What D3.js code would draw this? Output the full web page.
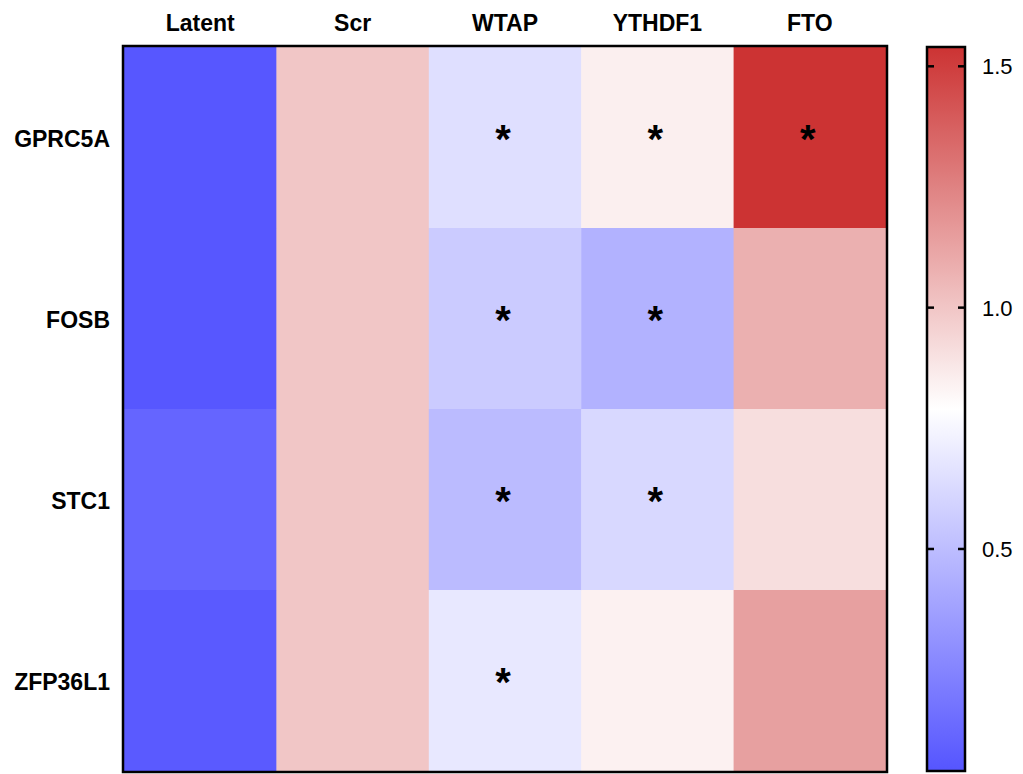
<!DOCTYPE html>
<html>
<head>
<meta charset="utf-8">
<script src="https://cdn.jsdelivr.net/npm/d3@7"></script>
<style>
  html, body { margin: 0; padding: 0; background: #fff; }
  svg { display: block; }
  text { font-family: "Liberation Sans", Arial, sans-serif; }
</style>
</head>
<body>
<svg id="chart" width="1023" height="774"></svg>
<script>
// Conditions (columns) and genes (rows)
const conditions = ["Latent", "Scr", "WTAP", "YTHDF1", "FTO"];
const genes = ["GPRC5A", "FOSB", "STC1", "ZFP36L1"];

// Relative expression per gene, one value per condition
const GPRC5A  = [0.05, 1.00, 0.65, 0.85, 1.54];
const FOSB    = [0.05, 1.00, 0.56, 0.45, 1.08];
const STC1    = [0.11, 1.00, 0.49, 0.62, 0.91];
const ZFP36L1 = [0.06, 1.00, 0.69, 0.84, 1.14];

// Significance marks per gene (1 = significant)
const sigGPRC5A  = [0, 0, 1, 1, 1];
const sigFOSB    = [0, 0, 1, 1, 0];
const sigSTC1    = [0, 0, 1, 1, 0];
const sigZFP36L1 = [0, 0, 1, 0, 0];

// Colour bar range and ticks
const colorMin = 0.04, colorMax = 1.54;
const barTicks = [0.5, 1.0, 1.5];

const rows = [GPRC5A, FOSB, STC1, ZFP36L1];
const sigs = [sigGPRC5A, sigFOSB, sigSTC1, sigZFP36L1];
const cells = [];
genes.forEach((g, i) => conditions.forEach((c, j) => {
  cells.push({ gene: g, cond: c, value: rows[i][j], sig: sigs[i][j] });
}));

const svg = d3.select("#chart");
const plotL = 124, plotR = 886, plotT = 47, plotB = 771;

const x = d3.scaleBand().domain(conditions).range([plotL, plotR]);
const y = d3.scaleBand().domain(genes).range([plotT, plotB]);
const color = d3.scaleLinear()
  .domain([colorMin, (colorMin + colorMax) / 2, colorMax])
  .range(["#5555ff", "#ffffff", "#cc3333"]);

// Heatmap cells
svg.append("g").selectAll("rect").data(cells).join("rect")
  .attr("x", d => x(d.cond))
  .attr("y", d => y(d.gene))
  .attr("width", x.bandwidth() + 0.5)
  .attr("height", y.bandwidth() + 0.5)
  .attr("fill", d => color(d.value));

// Asterisks for significant cells
svg.append("g").selectAll("text").data(cells.filter(d => d.sig)).join("text")
  .attr("x", d => x(d.cond) + x.bandwidth() / 2 - 2)
  .attr("y", d => y(d.gene) + y.bandwidth() / 2 + 15)
  .attr("text-anchor", "middle")
  .attr("font-size", 40).attr("font-weight", "bold")
  .attr("fill", "#000")
  .text("*");

// Frame around the heatmap
svg.append("rect")
  .attr("x", plotL - 1).attr("y", plotT - 1)
  .attr("width", plotR - plotL + 2).attr("height", plotB - plotT + 2)
  .attr("fill", "none").attr("stroke", "#000").attr("stroke-width", 2.5);

// Column labels
svg.append("g").selectAll("text").data(conditions).join("text")
  .attr("x", d => x(d) + x.bandwidth() / 2)
  .attr("y", 31)
  .attr("text-anchor", "middle")
  .attr("font-size", 23).attr("font-weight", "bold")
  .text(d => d);

// Row labels
svg.append("g").selectAll("text").data(genes).join("text")
  .attr("x", 110)
  .attr("y", d => y(d) + y.bandwidth() / 2 + 9)
  .attr("text-anchor", "end")
  .attr("font-size", 23).attr("font-weight", "bold")
  .text(d => d);

// Colour bar
const barX = 927, barW = 38;
const barY = d3.scaleLinear().domain([colorMin, colorMax]).range([plotB, plotT]);
const defs = svg.append("defs");
const grad = defs.append("linearGradient").attr("id", "cbar")
  .attr("x1", 0).attr("y1", 1).attr("x2", 0).attr("y2", 0);
d3.range(0, 1.0001, 0.05).forEach(t => {
  grad.append("stop").attr("offset", t)
    .attr("stop-color", color(colorMin + t * (colorMax - colorMin)));
});
svg.append("rect")
  .attr("x", barX).attr("y", plotT)
  .attr("width", barW).attr("height", plotB - plotT)
  .attr("fill", "url(#cbar)")
  .attr("stroke", "#000").attr("stroke-width", 2.5);

const tickG = svg.append("g").selectAll("g").data(barTicks).join("g")
  .attr("transform", d => `translate(0,${barY(d)})`);
tickG.append("line").attr("x1", barX).attr("x2", barX + 7)
  .attr("stroke", "#000").attr("stroke-width", 2.5);
tickG.append("line").attr("x1", barX + barW - 7).attr("x2", barX + barW)
  .attr("stroke", "#000").attr("stroke-width", 2.5);
tickG.append("text")
  .attr("x", 982).attr("y", 8)
  .attr("font-size", 22)
  .text(d => d3.format(".1f")(d));
</script>
</body>
</html>
